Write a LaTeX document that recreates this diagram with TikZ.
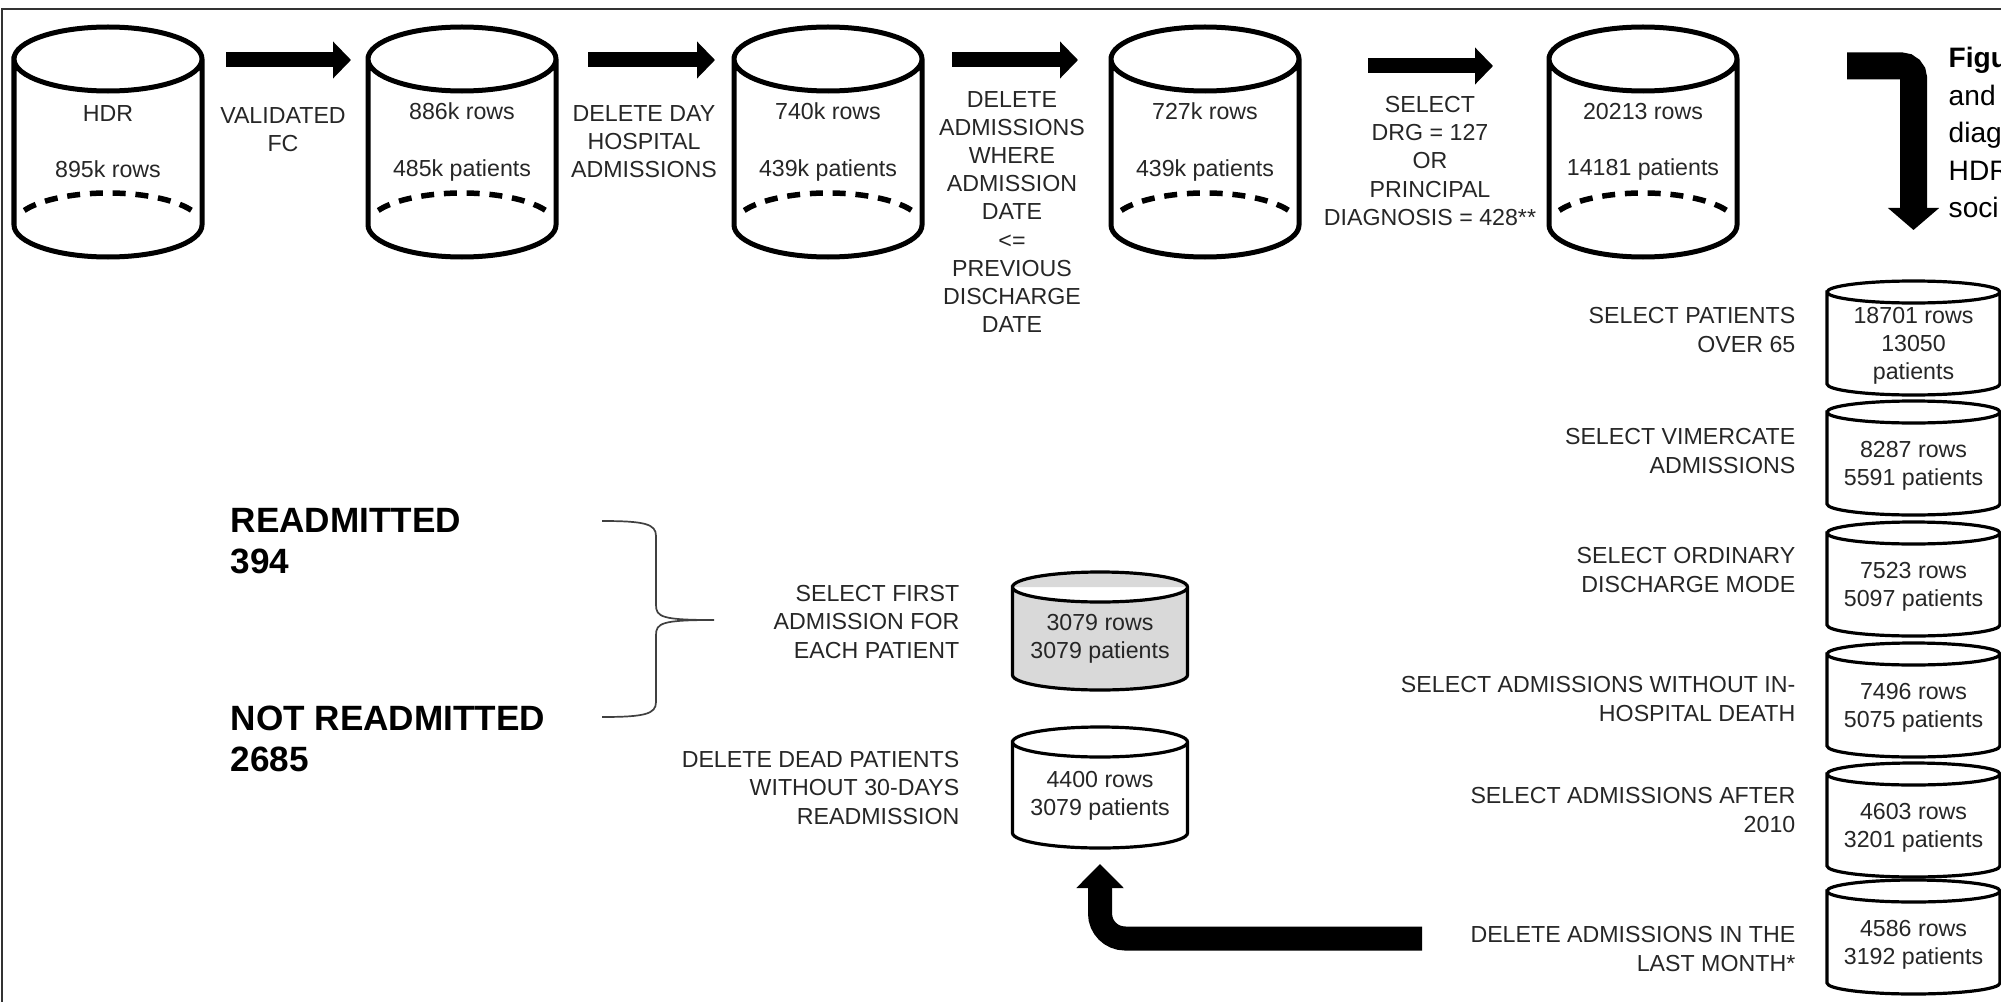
\documentclass[tikz,border=0pt]{standalone}
\usepackage{fontspec}
\setmainfont{Liberation Sans}
\usetikzlibrary{arrows.meta,calc}

\tikzset{
  dbbody/.style={draw=none, inner sep=0pt, outer sep=0pt},
  dbtext/.style={inner sep=0pt, align=center, text=black!85, font=\fontsize{6.6}{8}\selectfont},
  dbbig/.style={line width=0.05cm},
  dbsmall/.style={line width=0.032cm},
  hiddenarc/.style={line width=0.055cm, dash pattern=on 0.13cm off 0.098cm},
  steptext/.style={inner sep=0pt, align=center, text=black!85, font=\fontsize{6.6}{8}\selectfont},
  sidetext/.style={steptext, align=right, anchor=east},
  result/.style={inner sep=0pt, align=left, anchor=west, font=\fontsize{10}{11.7}\selectfont\bfseries},
  flowarrow/.style={line width=0.15cm, -{Triangle[width=0.36cm,length=0.18cm]}},
  turnarrow/.style={line width=0.24cm, rounded corners=0.25cm, -{Triangle[width=0.46cm,length=0.24cm]}},
  caparrow/.style={line width=0.27cm, rounded corners=0.12cm, -{Triangle[width=0.5cm,length=0.22cm]}},
}

% #1 text options, #2 name, #3 x, #4 top y, #5 x radius, #6 y radius, #7 height, #8 line style, #9 text
\newcommand{\dbcyl}[9][]{%
  \node[dbbody, minimum width=2*#5cm, minimum height=#7cm] (#2) at (#3,{#4-#7/2}) {};
  \draw[#8] ({#3-#5},{#4-#6}) -- ({#3-#5},{#4-#7+#6})
    arc[start angle=180, end angle=360, x radius=#5, y radius=#6]
    -- ({#3+#5},{#4-#6})
    arc[start angle=0, end angle=180, x radius=#5, y radius=#6] -- cycle
    ({#3+#5},{#4-#6}) arc[start angle=0, end angle=-180, x radius=#5, y radius=#6];
  \node[dbtext, #1] (#2-t) at (#2.center) {#9};
}
% dashed back edge of a big cylinder
\newcommand{\dbhidden}[1]{%
  \draw[hiddenarc] ([yshift=0.32cm]#1.south) ++(153:0.94 and 0.32)
    arc[start angle=153, end angle=27, x radius=0.94, y radius=0.32];
}

\begin{document}
\begin{tikzpicture}
\useasboundingbox (0,0) rectangle (20.01,-10.02);
\draw[line width=0.025cm, black!80] (0.02,-10.02) -- (0.02,-0.09) -- (20.01,-0.09);

% top row
\dbcyl{hdr}{1.08}{-0.27}{0.94}{0.32}{2.30}{dbbig, fill=white}{HDR\\[8pt]895k rows}
\dbcyl{r886}{4.62}{-0.27}{0.94}{0.32}{2.30}{dbbig, fill=white}{886k rows\\[8pt]485k patients}
\dbcyl{r740}{8.28}{-0.27}{0.94}{0.32}{2.30}{dbbig, fill=white}{740k rows\\[8pt]439k patients}
\dbcyl{r727}{12.05}{-0.27}{0.94}{0.32}{2.30}{dbbig, fill=white}{727k rows\\[8pt]439k patients}
\dbcyl{r20213}{16.43}{-0.27}{0.94}{0.32}{2.30}{dbbig, fill=white}{20213 rows\\[8pt]14181 patients}
\dbhidden{hdr}
\dbhidden{r886}
\dbhidden{r740}
\dbhidden{r727}
\dbhidden{r20213}

\node[steptext] (validated) at (2.83,-1.295) {VALIDATED\\FC};
\node[steptext] (dayhosp) at (6.44,-1.42) {DELETE DAY\\HOSPITAL\\ADMISSIONS};
\node[steptext] (prevdis) at (10.12,-2.12) {DELETE\\ADMISSIONS\\WHERE\\ADMISSION\\DATE\\<=\\PREVIOUS\\DISCHARGE\\DATE};
\node[steptext] (drg) at (14.30,-1.61) {SELECT\\DRG = 127\\OR\\PRINCIPAL\\DIAGNOSIS = 428**};

\draw[flowarrow] ($(hdr.north east)+(0.24,-0.33)$) -- ($(r886.north west)+(-0.17,-0.33)$);
\draw[flowarrow] ($(r886.north east)+(0.32,-0.33)$) -- ($(r740.north west)+(-0.19,-0.33)$);
\draw[flowarrow] ($(r740.north east)+(0.30,-0.33)$) -- ($(r727.north west)+(-0.33,-0.33)$);
\draw[flowarrow] ($(r727.north east)+(0.69,-0.39)$) -- ($(r20213.north west)+(-0.56,-0.39)$);

% right column
\dbcyl[yshift=-0.08cm]{r18701}{19.135}{-2.81}{0.865}{0.11}{1.14}{dbsmall, fill=white}{18701 rows\\13050\\patients}
\dbcyl[yshift=-0.08cm]{r8287}{19.135}{-4.01}{0.865}{0.11}{1.14}{dbsmall, fill=white}{8287 rows\\5591 patients}
\dbcyl[yshift=-0.08cm]{r7523}{19.135}{-5.22}{0.865}{0.11}{1.14}{dbsmall, fill=white}{7523 rows\\5097 patients}
\dbcyl[yshift=-0.08cm]{r7496}{19.135}{-6.43}{0.865}{0.11}{1.14}{dbsmall, fill=white}{7496 rows\\5075 patients}
\dbcyl[yshift=-0.08cm]{r4603}{19.135}{-7.63}{0.865}{0.11}{1.14}{dbsmall, fill=white}{4603 rows\\3201 patients}
\dbcyl[yshift=-0.08cm]{r4586}{19.135}{-8.80}{0.865}{0.11}{1.14}{dbsmall, fill=white}{4586 rows\\3192 patients}

\node[sidetext] (over65) at (17.96,-3.30) {SELECT PATIENTS\\OVER 65};
\node[sidetext] (vimercate) at (17.96,-4.51) {SELECT VIMERCATE\\ADMISSIONS};
\node[sidetext] (ordinary) at (17.96,-5.70) {SELECT ORDINARY\\DISCHARGE MODE};
\node[sidetext] (inhosp) at (17.96,-6.99) {SELECT ADMISSIONS WITHOUT IN-\\HOSPITAL DEATH};
\node[sidetext] (after2010) at (17.96,-8.10) {SELECT ADMISSIONS AFTER\\2010};
\node[sidetext] (lastmonth) at (17.96,-9.49) {DELETE ADMISSIONS IN THE\\LAST MONTH*};

\coordinate (capbar) at (18.47,-0.66);
\draw[caparrow] (capbar) -| ($(r18701.north)+(0,0.51)$);
\node[inner sep=0pt, align=left, anchor=north west, font=\fontsize{8}{10.67}\selectfont] (figcap) at (19.48,-0.465) {\textbf{Figu}\\and\\diag\\HDR\\soci};

% bottom left
\dbcyl[yshift=-0.08cm]{r3079}{11.00}{-5.72}{0.875}{0.15}{1.18}{dbsmall, fill=black!15}{3079 rows\\3079 patients}
\dbcyl[yshift=-0.08cm]{r4400}{11.00}{-7.27}{0.875}{0.15}{1.21}{dbsmall, fill=white}{4400 rows\\3079 patients}

\node[sidetext] (firstadm) at (9.60,-6.22) {SELECT FIRST\\ADMISSION FOR\\EACH PATIENT};
\node[sidetext] (deadpat) at (9.60,-7.88) {DELETE DEAD PATIENTS\\WITHOUT 30-DAYS\\READMISSION};

\coordinate (monthbar) at (14.22,-9.385);
\draw[turnarrow] (monthbar) -| ($(r4400.south)+(0,-0.16)$);

\node[result] (readm) at (2.30,-5.41) {READMITTED\\394};
\node[result] (notreadm) at (2.30,-7.39) {NOT READMITTED\\2685};

\draw[line width=0.017cm, black!75] (6.02,-5.21) .. controls (6.45,-5.21) and (6.56,-5.24) .. (6.56,-5.36)
  -- (6.56,-6.05) .. controls (6.56,-6.17) and (6.62,-6.20) .. (7.14,-6.20)
  .. controls (6.62,-6.20) and (6.56,-6.23) .. (6.56,-6.35)
  -- (6.56,-7.02) .. controls (6.56,-7.14) and (6.45,-7.17) .. (6.02,-7.17);
\end{tikzpicture}
\end{document}
